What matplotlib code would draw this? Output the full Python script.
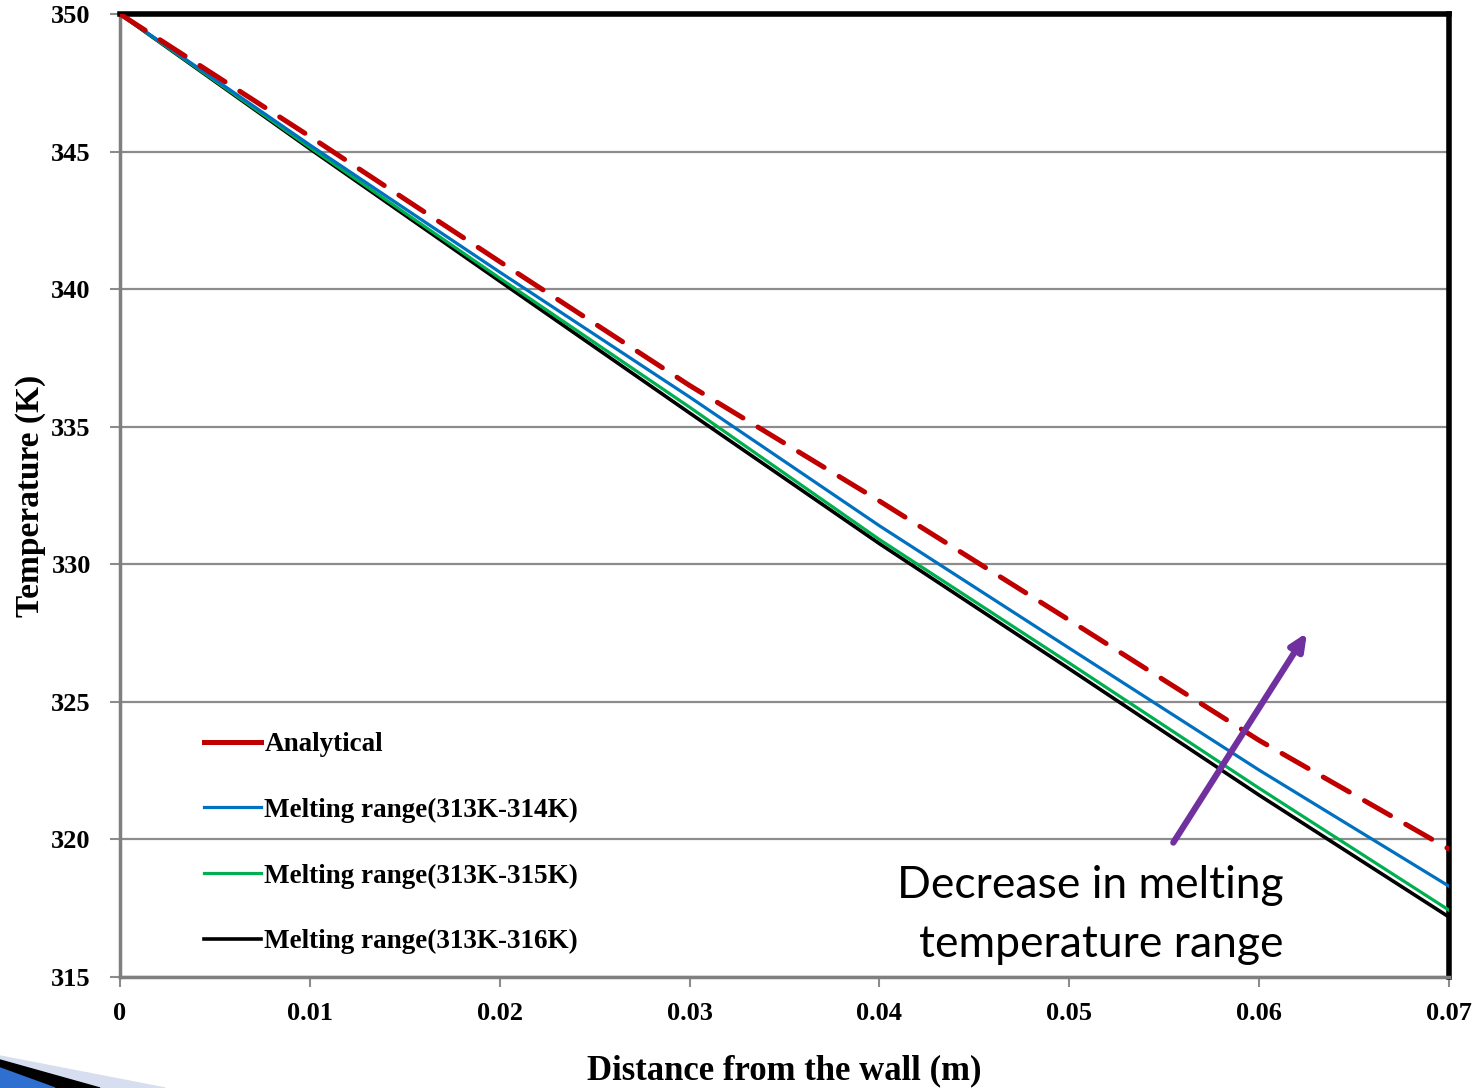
import numpy as np
import matplotlib.pyplot as plt
from matplotlib.patches import Polygon

# distance from wall (m) and temperatures (K)
distance = [0.0, 0.01, 0.02, 0.03, 0.04, 0.05, 0.06, 0.07]
analytical = [350.0, 345.55, 341.0, 336.5, 332.3, 327.97, 323.6, 319.65]
range_314 = [350.0, 345.24, 340.62, 336.08, 331.4, 326.95, 322.52, 318.3]
range_315 = [350.0, 345.15, 340.4, 335.71, 330.9, 326.41, 321.86, 317.43]
range_316 = [350.0, 345.1, 340.29, 335.5, 330.75, 326.2, 321.61, 317.18]

labels = ['Analytical', 'Melting range(313K-314K)',
          'Melting range(313K-315K)', 'Melting range(313K-316K)']
xticks = [0, 0.01, 0.02, 0.03, 0.04, 0.05, 0.06, 0.07]
xticklabels = ['0', '0.01', '0.02', '0.03', '0.04', '0.05', '0.06', '0.07']
yticks = [315, 320, 325, 330, 335, 340, 345, 350]

serif = 'Liberation Serif'

fig = plt.figure(figsize=(14.84, 10.88), dpi=100)
ax = fig.add_axes([120/1484, 1-977/1088, 1329/1484, 963/1088])

ax.plot(distance, analytical, color='#C00000', lw=3.6, dashes=(6, 3.5),
        dash_capstyle='round', label=labels[0], zorder=5)
ax.plot(distance, range_314, color='#0070C0', lw=2.3, label=labels[1], zorder=4)
ax.plot(distance, range_315, color='#00B050', lw=2.3, label=labels[2], zorder=3)
ax.plot(distance, range_316, color='black', lw=2.6, label=labels[3], zorder=2)

ax.set_xlim(0, 0.07)
ax.set_ylim(315, 350)
ax.set_xticks(xticks)
ax.set_xticklabels(xticklabels)
ax.set_yticks(yticks)
ax.yaxis.grid(True, color='#8c8c8c', lw=1.6)
ax.set_axisbelow(True)

for lab in ax.get_xticklabels() + ax.get_yticklabels():
    lab.set_fontfamily(serif)
    lab.set_fontweight('bold')
    lab.set_fontsize(19)
ax.tick_params(axis='both', direction='out', length=7, width=1.5, color='#8c8c8c')
ax.tick_params(axis='x', pad=11)
ax.tick_params(axis='y', pad=14)

ax.spines['top'].set_color('black')
ax.spines['top'].set_linewidth(4)
ax.spines['right'].set_color('black')
ax.spines['right'].set_linewidth(4)
ax.spines['left'].set_color('#7f7f7f')
ax.spines['left'].set_linewidth(2.5)
ax.spines['bottom'].set_color('#7f7f7f')
ax.spines['bottom'].set_linewidth(2.5)

ax.set_xlabel('Distance from the wall (m)', fontfamily=serif, fontweight='bold',
              fontsize=25)
ax.set_ylabel('Temperature (K)', fontfamily=serif, fontweight='bold',
              fontsize=24)
ax.xaxis.set_label_coords(0.5, -0.0976)
ax.xaxis.label.set_va('center')
ax.yaxis.set_label_coords(-0.0677, 0.5)
ax.yaxis.label.set_va('center')

leg = ax.legend(loc='upper left', bbox_to_anchor=(0.045, 0.2796), frameon=False,
                handlelength=2.1, handletextpad=0.12, labelspacing=1.5,
                prop={'family': serif, 'weight': 'bold', 'size': 19.5})
leg.get_lines()[0].set_linestyle('-')

# arrow showing trend
ax.annotate('', xy=(0.0626, 327.6), xytext=(0.0554, 319.8),
            arrowprops=dict(arrowstyle='-|>,head_length=1.0,head_width=0.45',
                            color='#7030A0', lw=4.5), zorder=6)
ax.text(0.0613, 317.25, 'Decrease in melting\ntemperature range', ha='right',
        va='center', fontfamily='Lato', fontsize=32, linespacing=1.55)

# slide decoration in the bottom-left corner
W, H = 1484, 1088
def px(pts):
    return [(x / W, 1 - y / H) for x, y in pts]
fig.patches.append(Polygon(px([(0, 1056), (165, 1088), (0, 1088)]),
                           closed=True, color='#D6DEF0', transform=fig.transFigure))
fig.patches.append(Polygon(px([(0, 1060), (100, 1088), (0, 1088)]),
                           closed=True, color='black', transform=fig.transFigure))
fig.patches.append(Polygon(px([(0, 1068), (55, 1088), (0, 1088)]),
                           closed=True, color='#2E6FD0', transform=fig.transFigure))

fig.savefig('out.png', dpi=100)
